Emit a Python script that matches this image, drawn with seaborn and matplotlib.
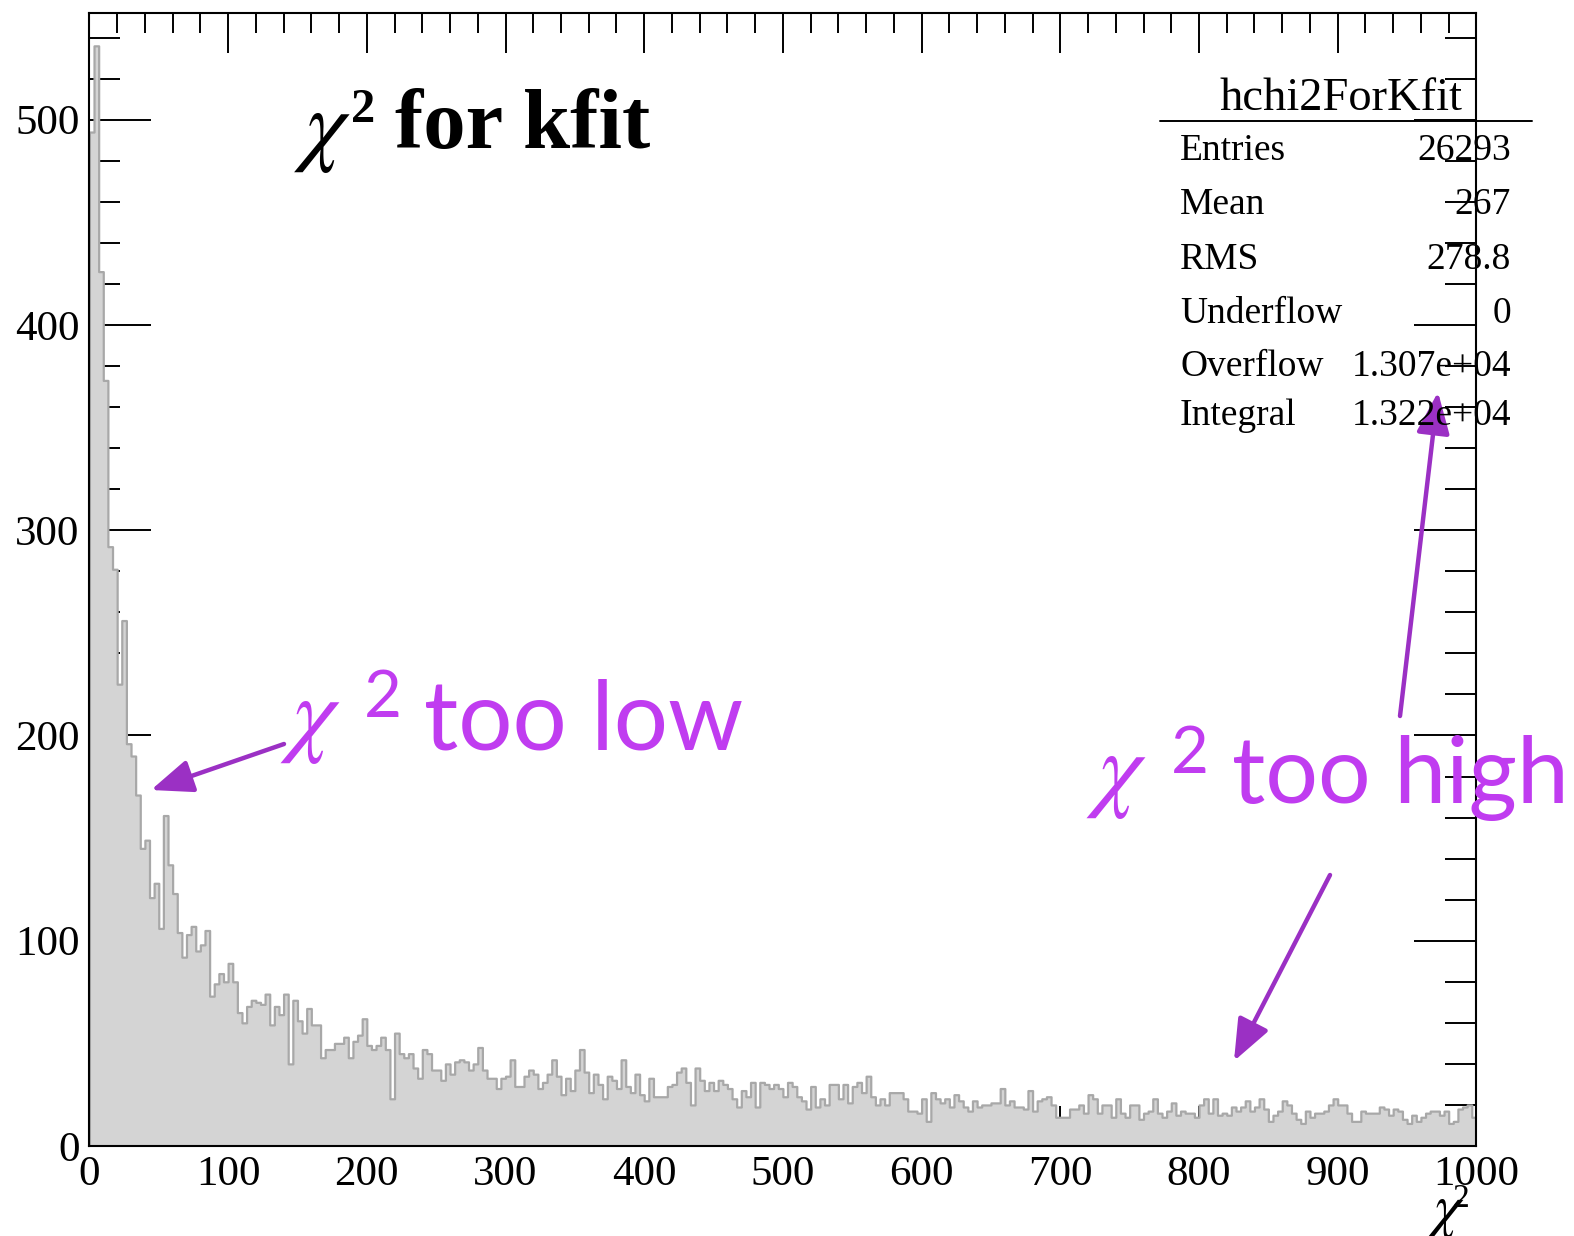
import numpy as np
import pandas as pd
import matplotlib
matplotlib.use("Agg")
import matplotlib.pyplot as plt
import seaborn as sns
from matplotlib.ticker import MultipleLocator
from matplotlib.patches import FancyArrowPatch
from matplotlib.lines import Line2D

# ---------------- data ----------------
x_min, x_max, n_bins = 0, 1000, 300
counts = [
    494, 536, 426, 373, 292, 281, 225, 256, 196, 190,
    171, 145, 149, 121, 128, 106, 161, 137, 123, 104,
    92, 103, 107, 95, 98, 105, 73, 79, 84, 80,
    89, 80, 65, 60, 68, 71, 70, 69, 74, 59,
    68, 64, 74, 40, 71, 61, 55, 67, 59, 59,
    43, 47, 47, 50, 50, 53, 43, 51, 54, 62,
    49, 47, 49, 53, 47, 23, 55, 45, 43, 45,
    38, 33, 47, 45, 37, 37, 32, 40, 35, 41,
    42, 41, 37, 40, 48, 37, 33, 33, 28, 33,
    34, 42, 29, 29, 34, 37, 35, 28, 31, 35,
    42, 34, 25, 33, 27, 37, 47, 36, 26, 35,
    30, 23, 34, 32, 28, 42, 29, 26, 35, 25,
    22, 33, 24, 24, 24, 29, 30, 36, 38, 31,
    20, 38, 32, 27, 31, 27, 32, 30, 28, 23,
    19, 27, 24, 31, 19, 31, 30, 28, 30, 28,
    24, 31, 29, 24, 22, 18, 29, 19, 23, 20,
    30, 30, 23, 30, 21, 29, 31, 26, 34, 24,
    20, 23, 20, 26, 26, 26, 23, 17, 17, 16,
    23, 12, 26, 23, 21, 23, 19, 25, 22, 19,
    17, 22, 19, 20, 20, 21, 21, 28, 20, 22,
    19, 19, 18, 27, 17, 22, 23, 24, 20, 14,
    14, 14, 18, 18, 20, 16, 25, 23, 16, 20,
    20, 14, 23, 16, 14, 20, 20, 13, 16, 17,
    23, 16, 14, 17, 21, 15, 17, 16, 16, 14,
    20, 23, 16, 23, 15, 16, 15, 19, 17, 19,
    22, 17, 19, 23, 18, 12, 15, 17, 22, 20,
    16, 13, 11, 17, 14, 16, 16, 17, 20, 23,
    20, 20, 16, 12, 12, 17, 16, 16, 16, 19,
    18, 15, 18, 17, 13, 11, 15, 12, 14, 16,
    17, 17, 15, 17, 11, 12, 18, 19, 20, 14,
]
x_ticks = [0, 100, 200, 300, 400, 500, 600, 700, 800, 900, 1000]
y_ticks = [0, 100, 200, 300, 400, 500]
title_main = "for kfit"
hist_name = "hchi2ForKfit"
stat_labels = ["Entries", "Mean", "RMS", "Underflow", "Overflow", "Integral"]
stat_values = ["26293", "267", "278.8", "0", "1.307e+04", "1.322e+04"]
note_low = "too low"
note_high = "too high"

# ---------------- style ----------------
sns.set_theme(style="ticks")
plt.rcParams["font.family"] = ["Liberation Serif", "DejaVu Serif"]
plt.rcParams["mathtext.fontset"] = "stix"
plt.rcParams["text.color"] = "black"
plt.rcParams["xtick.color"] = "black"
plt.rcParams["ytick.color"] = "black"

W, H = 1574, 1236
fig = plt.figure(figsize=(W / 100, H / 100), dpi=100)
fig.patch.set_facecolor("white")


def fx(px):
    return px / W


def fy(py):
    return 1 - py / H


ax = fig.add_axes([fx(89.4), fy(1146), fx(1476.4) - fx(89.4), fy(13) - fy(1146)])
ax.set_facecolor("white")

width = (x_max - x_min) / n_bins
df = pd.DataFrame({"chi2": x_min + width * (np.arange(n_bins) + 0.5),
                   "n": np.asarray(counts, dtype=float)})
sns.histplot(data=df, x="chi2", weights="n", bins=n_bins, binrange=(x_min, x_max),
             element="step", fill=True, color="#d4d4d4", alpha=1, ax=ax)
for coll in ax.collections:
    coll.set_facecolor("#d4d4d4")
    coll.set_edgecolor("#a8a8a8")
    coll.set_linewidth(1.6)
for ln in ax.lines:
    ln.set_color("#a8a8a8")
    ln.set_linewidth(1.6)

ax.set_xlim(x_min, x_max)
ax.set_ylim(0, 552)
ax.set_xlabel("")
ax.set_ylabel("")
ax.set_xticks(x_ticks)
ax.set_yticks(y_ticks)
ax.xaxis.set_minor_locator(MultipleLocator(20))
ax.yaxis.set_minor_locator(MultipleLocator(20))
ax.tick_params(axis="x", which="major", direction="in", length=28.8, width=1.4,
               top=True, bottom=True, labelsize=31, pad=7, colors="black")
ax.tick_params(axis="x", which="minor", direction="in", length=14.4, width=1.4,
               top=True, bottom=True)
ax.tick_params(axis="y", which="major", direction="in", length=44.6, width=1.4,
               left=True, right=True, labelsize=31, pad=7, colors="black")
ax.tick_params(axis="y", which="minor", direction="in", length=22.3, width=1.4,
               left=True, right=True)
for s in ax.spines.values():
    s.set_linewidth(1.5)
    s.set_color("black")
ax.grid(False)

# ---------------- title ----------------
fig.text(fx(294), fy(154), r"$\chi$", fontsize=66, va="baseline", color="black")
fig.text(fx(351), fy(122), "2", fontsize=35, fontweight="bold", va="baseline")
fig.text(fx(395), fy(148), title_main, fontsize=61, fontweight="bold", va="baseline")

# x axis label
fig.text(fx(1426), fy(1226), r"$\chi$", fontsize=44, va="baseline")
fig.text(fx(1453), fy(1207), "2", fontsize=24, va="baseline")

# ---------------- stats box ----------------
fig.text(fx(1341), fy(110), hist_name, fontsize=33.5, ha="center", va="baseline")
fig.add_artist(Line2D([fx(1160), fx(1532)], [fy(121), fy(121)], color="black", lw=1.4))
row_y = [160, 214, 269, 323, 376, 425]
for lab, val, yy in zip(stat_labels, stat_values, row_y):
    fig.text(fx(1180), fy(yy), lab, fontsize=27, ha="left", va="baseline")
    fig.text(fx(1511), fy(yy), val, fontsize=27, ha="right", va="baseline")

# ---------------- annotations ----------------
purple = "#c03cf0"
arrow_c = "#9b30c4"
ann_font = ["Lato", "DejaVu Sans"]

fig.text(fx(280), fy(744), r"$\chi$", fontsize=70, color=purple, va="baseline")
fig.text(fx(364), fy(717), "2", fontsize=47, family=ann_font, color=purple, va="baseline")
fig.text(fx(424), fy(749), note_low, fontsize=69, family=ann_font, color=purple, va="baseline")

fig.text(fx(1086), fy(799), r"$\chi$", fontsize=70, color=purple, va="baseline")
fig.text(fx(1171), fy(773), "2", fontsize=47, family=ann_font, color=purple, va="baseline")
fig.text(fx(1232), fy(803), note_high, fontsize=67, family=ann_font, color=purple, va="baseline")

for (x0, y0), (x1, y1) in [((284, 744), (151, 790)),
                           ((1400, 716), (1438, 392)),
                           ((1330, 875), (1234, 1061))]:
    fig.add_artist(FancyArrowPatch((fx(x0), fy(y0)), (fx(x1), fy(y1)),
                                   transform=fig.transFigure,
                                   arrowstyle="-|>,head_length=1.5,head_width=0.6",
                                   mutation_scale=17, lw=3.2, color=arrow_c,
                                   shrinkA=0, shrinkB=0))

fig.savefig("out.png", dpi=100)
